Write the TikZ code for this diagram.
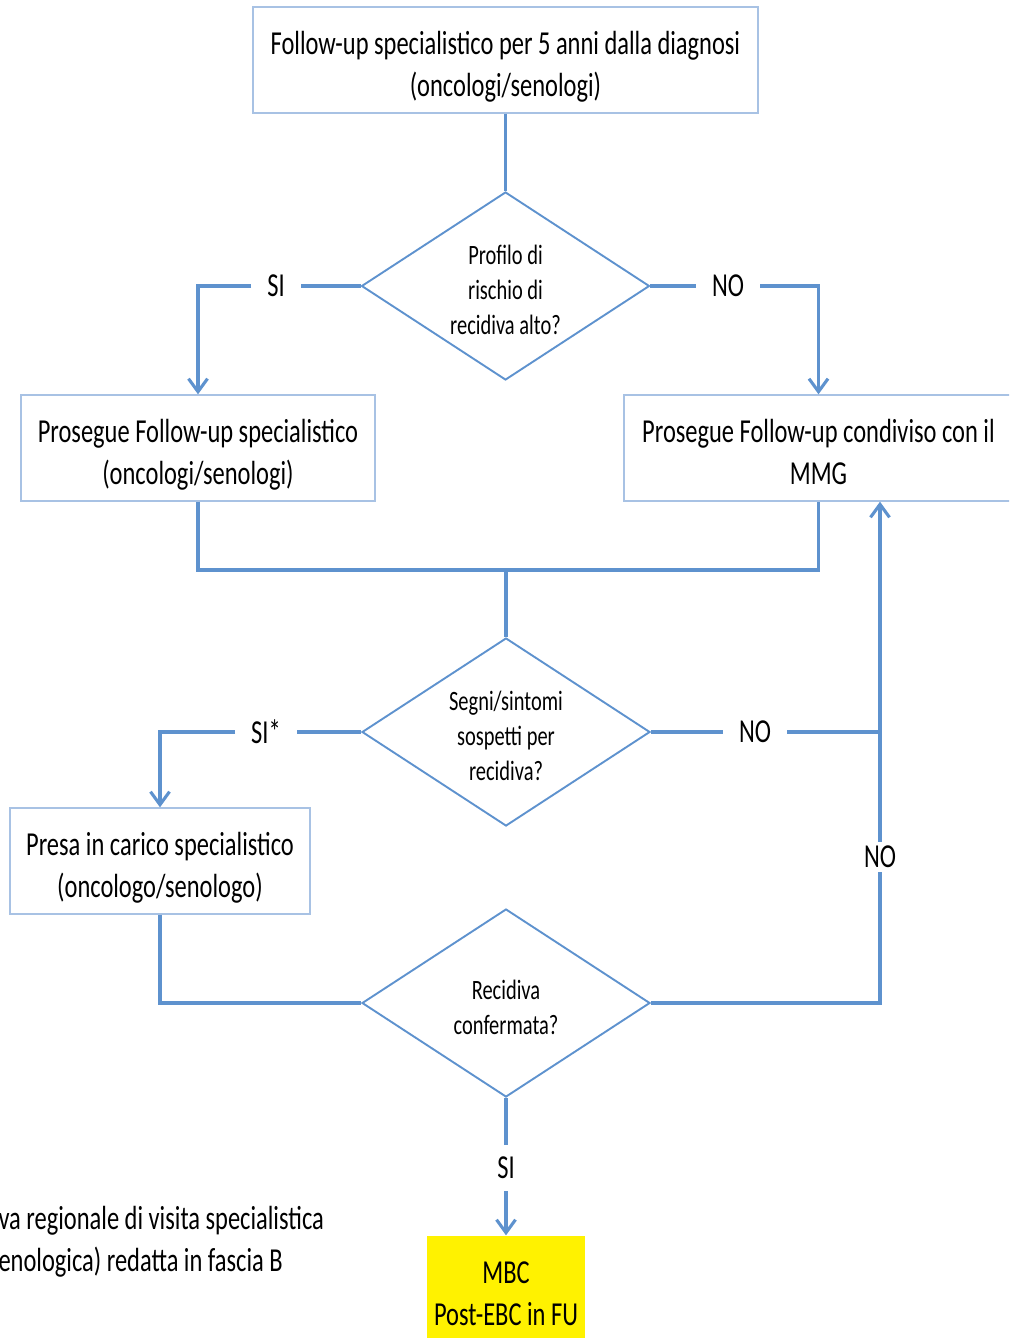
\documentclass[tikz,border=0pt]{standalone}
\usepackage{fontspec}
\setmainfont[FakeStretch=0.73]{Carlito}
\usetikzlibrary{shapes.geometric, positioning, arrows.meta}
\definecolor{flowblue}{RGB}{94,146,206}
\definecolor{boxblue}{RGB}{168,194,228}
\tikzset{node distance=226pt, % Centre to centre, top box to first question
box/.style={ % Sets the properties for each rectangle
draw=boxblue, line width=1.4pt,
minimum height=106pt, inner sep=0pt, text height=73pt, text depth=0pt,
align=center, font=\fontsize{33.5}{42}\selectfont},
question/.style={ % Sets the properties for each decision
diamond, aspect=1.53, draw=flowblue, line width=1.9pt,
minimum width=288pt, minimum height=188pt, inner sep=0pt, text height=97pt, text depth=0pt,
align=center, font=\fontsize{28}{35}\selectfont},
answer/.style={ % SI / NO labels sitting on the lines
inner xsep=16pt, inner ysep=4pt, font=\fontsize{33.5}{42}\selectfont},
flow/.style={ % Sets the properties for each connector
draw=flowblue, line width=3.1pt},
>={Straight Barb[length=13pt,width=19pt]}}

\begin{document}
\begin{tikzpicture}[x=1pt, y=-1pt]
    \useasboundingbox (0,0) rectangle (1009,1338);
    \clip (0,0) rectangle (1009,1338);

    \node[box, minimum width=505pt] (top) at (505.5,60) {Follow-up specialistico per 5 anni dalla diagnosi\\(oncologi/senologi)};
    \node[question, below of=top] (d1) {Profilo di\\rischio di\\recidiva alto?};
    \node[box, minimum width=354pt] (spec) at (198,448) {Prosegue Follow-up specialistico\\(oncologi/senologi)};
    \node[box, minimum width=389pt] (shared) at (818.5,448) {Prosegue Follow-up condiviso con il\\MMG};
    \node[question] (d2) at (506,732) {Segni/sintomi\\sospetti per\\recidiva?};
    \node[box, minimum width=300pt] (take) at (160,861) {Presa in carico specialistico\\(oncologo/senologo)};
    \node[question, text height=62pt, below of=d2, yshift=-45pt] (d3) {Recidiva\\confermata?};
    \node[box, draw=none, fill=yellow, minimum width=158pt] (mbc) at (506,1289) {MBC\\Post-EBC in FU};
    \node[font=\fontsize{33.5}{42}\selectfont, align=left, anchor=west] (note) at (-5,1242) {va regionale di visita specialistica\\enologica) redatta in fascia B};

    \node[answer] (si1) at (276,286) {SI};
    \node[answer] (no1) at (728,286) {NO};
    \node[answer] (si2) at (266,732) {SI*};
    \node[answer] (no2) at (755,732) {NO};
    \node[answer] (no3) at (880,857) {NO};
    \node[answer, inner ysep=12pt] (si3) at (506,1168) {SI};
    \coordinate (merge) at (506,570);
    \coordinate (join) at (880,732);

    \draw[flow] (top) -- (d1);
    \draw[flow] (d1) -- (si1);
    \draw[flow, ->] (si1) -| (spec);
    \draw[flow] (d1) -- (no1);
    \draw[flow, ->] (no1) -| (shared);
    \draw[flow] (spec) |- (merge) -| (shared);
    \draw[flow] (merge) -- (d2);
    \draw[flow] (d2) -- (si2);
    \draw[flow, ->] (si2) -| (take);
    \draw[flow] (d2) -- (no2) -- (join);
    \draw[flow] (take) |- (d3);
    \draw[flow] (d3) -| (no3);
    \draw[flow, ->] (no3) -- (no3 |- shared.south);
    \draw[flow] (d3) -- (si3);
    \draw[flow, ->] (si3) -- (mbc);

\end{tikzpicture}
\end{document}
